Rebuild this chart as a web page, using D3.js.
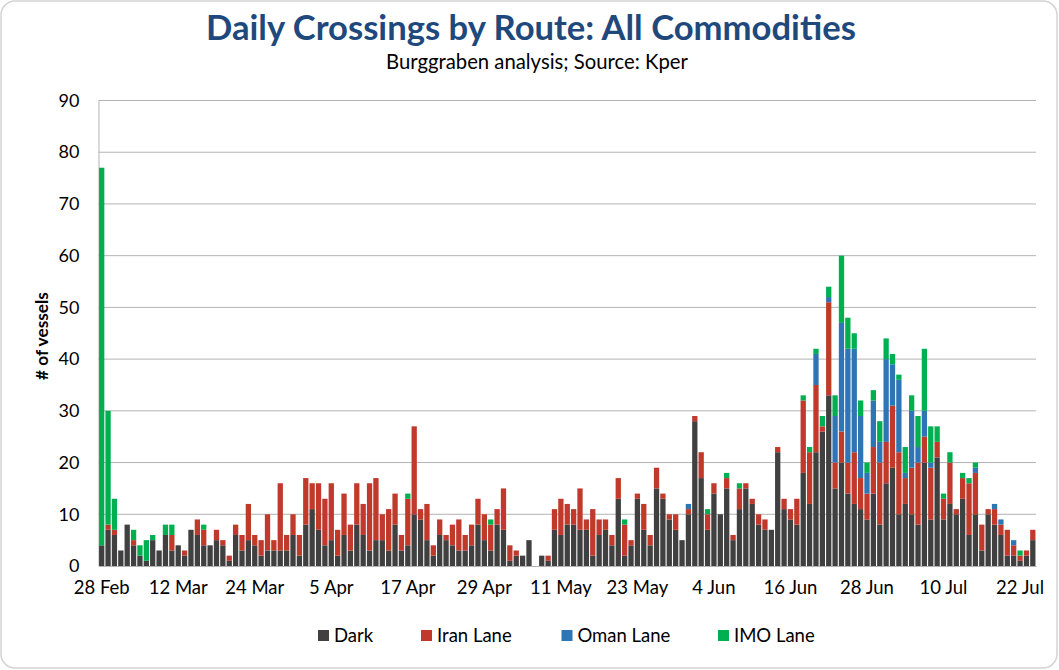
<!DOCTYPE html>
<html>
<head>
<meta charset="utf-8">
<script src="https://cdn.jsdelivr.net/npm/d3@7/dist/d3.min.js"></script>
<style>
  html, body { margin: 0; padding: 0; background: #fff; }
  svg { display: block; }
</style>
</head>
<body>
<svg id="chart" width="1059" height="670"></svg>
<script>
// ---------- DATA ----------
const startDate = "2026-02-28";
const endDate = "2026-07-25"; // exclusive -> 147 days
const tickLabels = ["28 Feb","12 Mar","24 Mar","5 Apr","17 Apr","29 Apr","11 May","23 May","4 Jun","16 Jun","28 Jun","10 Jul","22 Jul"];
const seriesNames = ["Dark", "Iran Lane", "Oman Lane", "IMO Lane"];
const yTicks = [0,10,20,30,40,50,60,70,80,90];

const dark = [4,7,6,3,8,4,2,1,5,3,6,3,4,2,7,6,4,4,5,4,1,6,3,5,
  4,2,3,3,3,3,6,2,8,11,7,4,5,2,6,3,8,6,3,5,5,3,8,3,
  4,10,9,5,2,6,5,4,3,3,4,8,5,3,8,7,1,2,2,5,0,2,1,7,
  6,8,8,7,7,2,6,7,4,13,2,4,13,7,4,15,13,9,7,5,10,28,17,7,
  14,10,15,5,11,15,12,8,7,7,22,11,9,8,18,12,22,26,
  33,15,20,14,12,11,9,14,8,16,19,10,12,10,8,20,9,21,
  9,12,10,13,6,10,3,10,8,6,2,2,1,2,5];
const iran = [0,1,1,0,0,1,0,0,0,0,0,3,0,1,0,3,3,0,2,1,1,2,3,7,
  2,3,7,2,13,3,4,4,9,5,9,9,11,5,8,5,8,6,13,12,5,8,6,3,
  9,17,2,7,2,3,1,4,6,3,4,5,5,5,3,8,3,1,0,0,0,0,1,4,
  7,4,3,8,2,9,3,2,2,4,6,1,1,5,2,4,1,1,3,0,1,1,5,3,
  2,0,2,1,4,1,1,2,2,0,1,2,2,5,14,10,13,1,
  18,5,6,6,10,6,5,9,12,8,12,12,5,9,12,5,10,3,
  4,8,1,4,10,8,5,1,3,2,5,2,1,1,2];
const oman = [0,0,0,0,0,0,0,0,0,0,0,0,0,0,0,0,0,0,0,0,0,0,0,0,
  0,0,0,0,0,0,0,0,0,0,0,0,0,0,0,0,0,0,0,0,0,0,0,0,
  0,0,0,0,0,0,0,0,0,0,0,0,0,0,0,0,0,0,0,0,0,0,0,0,
  0,0,0,0,0,0,0,0,0,0,0,0,0,0,0,0,0,0,0,0,1,0,0,0,
  0,0,0,0,0,0,0,0,0,0,0,0,0,0,0,0,6,0,
  1,9,21,22,20,12,4,9,4,16,8,14,1,11,3,5,1,0,
  0,0,0,0,0,1,0,0,1,1,0,1,0,0,0];
const imo = [73,22,6,0,0,2,2,4,1,0,2,2,0,0,0,0,1,0,0,0,0,0,0,0,
  0,0,0,0,0,0,0,0,0,0,0,0,0,0,0,0,0,0,0,0,0,0,0,0,
  1,0,0,0,0,0,0,0,0,0,0,0,0,1,0,0,0,0,0,0,0,0,0,0,
  0,0,0,0,0,0,0,0,0,0,1,0,0,0,0,0,0,0,0,0,0,0,0,1,
  0,0,1,0,1,0,0,0,0,0,0,0,0,0,1,1,1,2,
  2,4,13,6,3,3,2,2,4,4,2,1,5,3,6,12,7,3,
  1,2,0,1,1,1,0,0,0,0,0,0,1,0,0];

const colors = ["#404040", "#C0392B", "#2E75B6", "#00B050"];

// ---------- BUILD ----------
const parse = d3.timeParse("%Y-%m-%d");
const days = d3.timeDay.range(parse(startDate), parse(endDate));
const fmt = d3.timeFormat("%-d %b");
const cats = days.map(d => fmt(d));
const keys = ["dark", "iran", "oman", "imo"];
const rows = cats.map((c, i) => ({ cat: c, dark: dark[i], iran: iran[i], oman: oman[i], imo: imo[i] }));
const stacked = d3.stack().keys(keys)(rows);

const svg = d3.select("#chart");
const W = 1059, H = 670;
const plot = { left: 98.5, right: 1036, top: 100.5, bottom: 566 };
const font = "Lato, 'Open Sans', sans-serif";

// border
svg.append("rect").attr("x", 1).attr("y", 1).attr("width", W - 3).attr("height", H - 3)
  .attr("rx", 14).attr("ry", 14).attr("fill", "#fff").attr("stroke", "#d4d4d4").attr("stroke-width", 1.5);

const x = d3.scaleBand().domain(cats).range([plot.left, plot.right]).paddingInner(0.17).paddingOuter(0.085);
const y = d3.scaleLinear().domain([0, 90]).range([plot.bottom, plot.top]);

// gridlines
svg.append("g").selectAll("line").data(yTicks.filter(t => t > 0)).join("line")
  .attr("x1", plot.left).attr("x2", plot.right)
  .attr("y1", d => y(d)).attr("y2", d => y(d))
  .attr("stroke", "#b3b3b3").attr("stroke-width", 1);

// y axis
const yAxis = svg.append("g").attr("transform", `translate(${plot.left},0)`)
  .call(d3.axisLeft(y).tickValues(yTicks).tickSize(0).tickPadding(19));
yAxis.select(".domain").attr("stroke", "#b3b3b3");
yAxis.selectAll("text").attr("font-family", font).attr("font-size", 18).attr("fill", "#000");

// bars
svg.append("g").selectAll("g").data(stacked).join("g")
  .attr("fill", (d, i) => colors[i])
  .selectAll("rect").data(d => d).join("rect")
  .attr("x", d => x(d.data.cat))
  .attr("width", x.bandwidth())
  .attr("y", d => y(d[1]))
  .attr("height", d => y(d[0]) - y(d[1]));

// x axis
const xAxis = svg.append("g").attr("transform", `translate(0,${plot.bottom})`)
  .call(d3.axisBottom(x).tickValues(tickLabels).tickSize(0).tickPadding(15));
xAxis.select(".domain").attr("stroke", "#b3b3b3");
xAxis.selectAll("text").attr("font-family", font).attr("font-size", 18.5).attr("fill", "#000");

// title
function fitText(sel, target) {
  const w = sel.node().getComputedTextLength();
  const fs = parseFloat(sel.attr("font-size"));
  sel.attr("font-size", fs * target / w);
}
const title = svg.append("text").attr("x", 531).attr("y", 40).attr("text-anchor", "middle")
  .attr("font-family", font).attr("font-weight", "bold").attr("font-size", 32)
  .attr("fill", "#1F497D").text("Daily Crossings by Route: All Commodities");
fitText(title, 650);
const sub = svg.append("text").attr("x", 537).attr("y", 69).attr("text-anchor", "middle")
  .attr("font-family", font).attr("font-size", 16).attr("fill", "#000")
  .text("Burggraben analysis; Source: Kper");
fitText(sub, 302);

// y label
const ylab = svg.append("text").attr("transform", "translate(48,336) rotate(-90)").attr("text-anchor", "middle")
  .attr("font-family", font).attr("font-weight", "bold").attr("font-size", 17).attr("fill", "#000")
  .text("# of vessels");
fitText(ylab, 88);

// legend
const legX = [318, 421, 561.5, 718];
const leg = svg.append("g").selectAll("g").data(seriesNames).join("g")
  .attr("transform", (d, i) => `translate(${legX[i]},630)`);
leg.append("rect").attr("width", 11).attr("height", 11).attr("fill", (d, i) => colors[i]);
leg.append("text").attr("x", 16).attr("y", 11.5).attr("font-family", font).attr("font-size", 18.5)
  .attr("fill", "#000").text(d => d);
</script>
</body>
</html>
